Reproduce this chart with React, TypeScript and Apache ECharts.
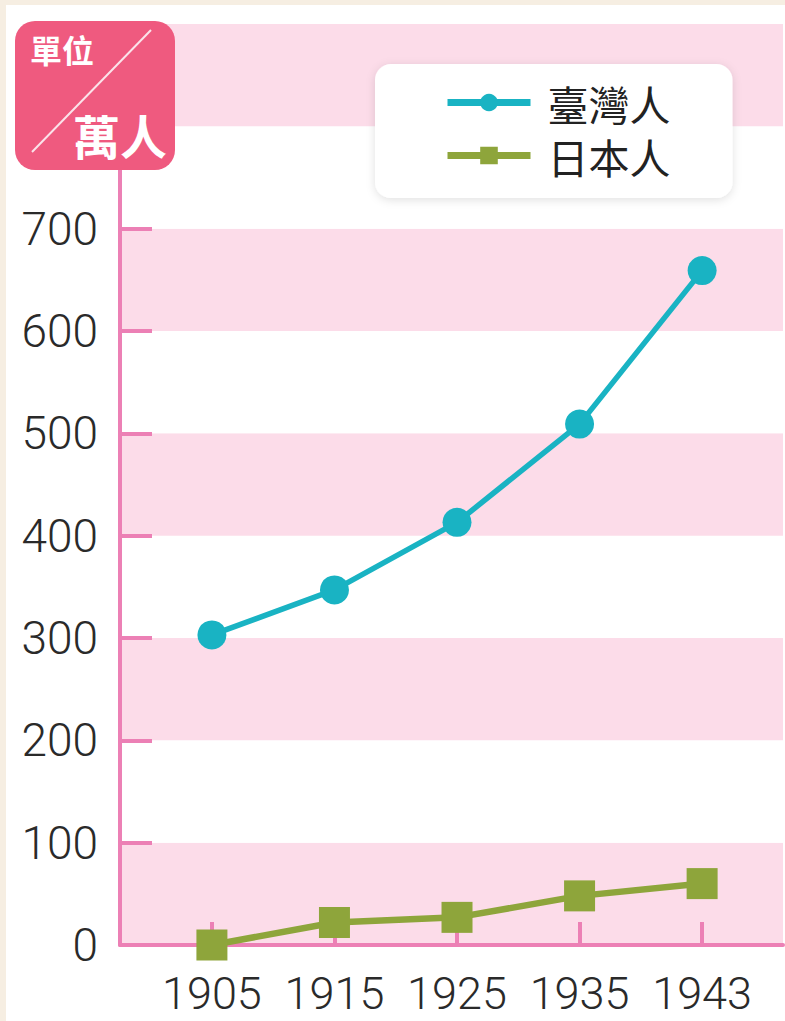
import React, { useEffect, useRef } from "react";
import * as echarts from "echarts";

const years = ["1905", "1915", "1925", "1935", "1943"];
const taiwanese = [303, 347, 413, 509, 659];
const japanese = [0, 22, 27, 48, 60];
const maxLabel = 700;
const seriesNames = ["臺灣人", "日本人"];

const PINK = "#ec80b5";
const BAND = "#fcdce9";
const CYAN = "#19b3c3";
const GREEN = "#8ea53b";
const NUM_FONT = "Roboto, sans-serif";
const CJK = "'Noto Sans CJK TC', 'Noto Sans CJK SC', sans-serif";

export default function App() {
  const ref = useRef<HTMLDivElement>(null);
  useEffect(() => {
    const chart = echarts.init(ref.current!, null, { renderer: "svg" });
    chart.setOption({
      animation: false,
      backgroundColor: "#ffffff",
      grid: { left: 120, right: 2, top: 24, bottom: 76 },
      xAxis: {
        type: "value",
        min: -0.75,
        max: 4.66,
        splitLine: { show: false },
        axisLine: { show: true, lineStyle: { color: PINK, width: 4 } },
        axisTick: {
          show: true,
          inside: true,
          length: 23,
          customValues: years.map((_, i) => i),
          lineStyle: { color: PINK, width: 4 },
        },
        axisLabel: {
          customValues: years.map((_, i) => i),
          formatter: (v: number) => years[Math.round(v)] ?? "",
          fontFamily: NUM_FONT,
          fontWeight: 300,
          fontSize: 45,
          lineHeight: 45,
          color: "#2a2a2a",
          margin: 26,
        },
      },
      yAxis: {
        type: "value",
        min: 0,
        max: 900,
        interval: 100,
        axisLine: { show: true, onZero: false, lineStyle: { color: PINK, width: 4 } },
        axisTick: {
          show: true,
          inside: true,
          length: 32,
          lineStyle: { color: PINK, width: 4 },
        },
        axisLabel: {
          formatter: (v: number) => (v <= maxLabel ? String(v) : ""),
          fontFamily: NUM_FONT,
          fontWeight: 300,
          fontSize: 46,
          color: "#2a2a2a",
          margin: 22,
        },
        splitLine: { show: false },
        splitArea: { show: true, areaStyle: { color: [BAND, "#ffffff"] } },
      },
      legend: {
        orient: "vertical",
        left: 375,
        top: 64,
        padding: [18, 62, 22, 69],
        itemGap: 12,
        itemWidth: 83,
        itemHeight: 22,
        backgroundColor: "#ffffff",
        borderRadius: 16,
        shadowColor: "rgba(0,0,0,0.12)",
        shadowBlur: 10,
        shadowOffsetY: 2,
        lineStyle: { width: 7 },
        textStyle: {
          fontFamily: CJK,
          fontSize: 41,
          lineHeight: 41,
          color: "#222",
          padding: [0, 0, 0, 12],
        },
        data: seriesNames,
      },
      series: [
        {
          name: seriesNames[0],
          type: "line",
          data: taiwanese.map((v, i) => [i, v]),
          symbol: "circle",
          symbolSize: 29,
          lineStyle: { color: CYAN, width: 5.5 },
          itemStyle: { color: CYAN },
          z: 3,
        },
        {
          name: seriesNames[1],
          type: "line",
          data: japanese.map((v, i) => [i, v]),
          symbol: "rect",
          symbolSize: 31,
          lineStyle: { color: GREEN, width: 6.5 },
          itemStyle: { color: GREEN },
          z: 3,
        },
      ],
      graphic: [
        { type: "rect", left: 0, top: 0, z: 100, shape: { width: 6, height: 1021 }, style: { fill: "#f6eee2" } },
        { type: "rect", left: 0, top: 0, z: 100, shape: { width: 785, height: 5 }, style: { fill: "#f6eee2" } },
        {
          type: "group",
          left: 15,
          top: 21,
          z: 100,
          children: [
            { type: "rect", z: 100, shape: { x: 0, y: 0, width: 160, height: 149, r: 20 }, style: { fill: "#ef5a7f" } },
            { type: "line", z: 101, shape: { x1: 17, y1: 131, x2: 136, y2: 9 }, style: { stroke: "#fbe3ea", lineWidth: 2 } },
            {
              type: "text",
              z: 102,
              x: 15,
              y: 12,
              style: { text: "單位", fill: "#fff", font: `bold 32px ${CJK}` },
            },
            {
              type: "text",
              z: 102,
              x: 58,
              y: 90,
              style: { text: "萬人", fill: "#fff", font: `bold 47px ${CJK}` },
            },
          ],
        },
      ],
    });
    return () => chart.dispose();
  }, []);
  return (
    <div
      ref={ref}
      style={{ position: "fixed", left: 0, top: 0, width: 785, height: 1021 }}
    />
  );
}
